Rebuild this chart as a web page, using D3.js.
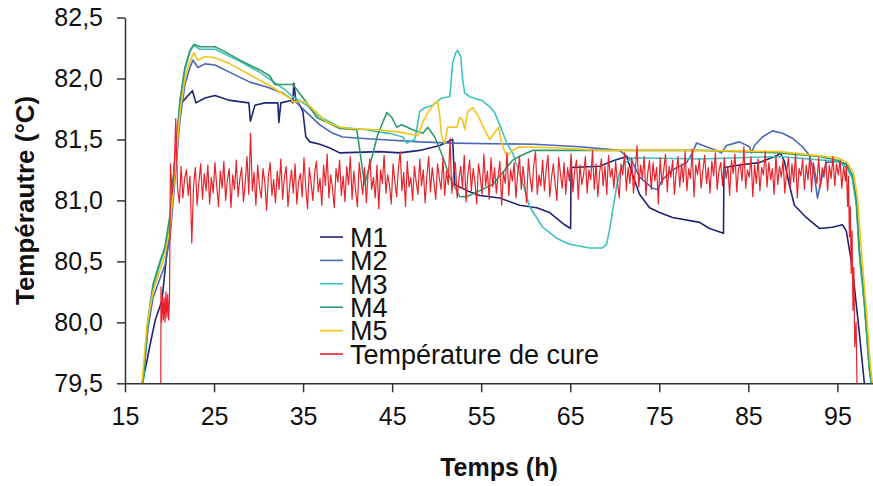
<!DOCTYPE html>
<html>
<head>
  <meta charset="utf-8">
  <script src="https://cdnjs.cloudflare.com/ajax/libs/d3/7.8.5/d3.min.js"></script>
  <title>Température de cure</title>
  <style>
    body { margin: 0; background: #fff; }
    text { font-family: Arial, "Liberation Sans", sans-serif; }
    .axis path, .axis line { stroke: #333; stroke-width: 1.5; }
    .axis text { font-size: 25px; fill: #111; }
    .curve { fill: none; stroke-linejoin: round; }
  </style>
</head>
<body>
<script>
// hours / °C
const m1 = [[16.9,79.5],[17.4,79.66],[17.8,79.81],[18.4,80.02],[19.15,80.18],[19.94,80.74],[20.6,81.33],[21.34,81.8],
  [22.57,81.9],[22.97,81.8],[23.98,81.84],[25.1,81.86],[26.78,81.82],[28.91,81.8],[29.08,81.65],[29.59,81.78],
  [30.71,81.8],[32.17,81.8],[32.28,81.64],[32.5,81.8],[33.63,81.82],[33.85,81.8],[33.96,81.96],[34.19,81.82],
  [34.64,81.78],[34.97,81.73],[35.31,81.52],[35.76,81.48],[36.88,81.46],[38.0,81.43],[39.12,81.39],[43.61,81.4],
  [45.86,81.39],[48.1,81.41],[50.34,81.45],[51.8,81.5],[52.03,81.13],[53.71,81.07],[54.83,81.04],[57.08,81.02],
  [59.32,80.96],[61.23,80.94],[62.69,80.9],[64.37,80.8],[65.04,80.77],[65.1,81.27],[68.3,81.28],[69.98,81.33],
  [71.33,81.36],[72.0,81.21],[72.78,81.05],[73.91,80.94],[75.03,80.9],[76.49,80.86],[79.52,80.82],[80.64,80.77],
  [82.21,80.73],[82.26,81.27],[84.0,81.29],[86.25,81.31],[88.27,81.37],[88.6,81.39],[89.05,81.32],[89.6,81.13],
  [90.17,80.96],[91.5,80.86],[92.98,80.77],[94.44,80.78],[95.56,80.8],[96.0,80.75],[96.68,80.45],[97.47,79.91],[98.03,79.5]];

const m2 = [[17.02,79.5],[17.58,79.95],[18.14,80.2],[18.93,80.36],[19.49,80.47],[20.05,80.69],[20.61,81.17],[21.17,81.66],
  [21.73,81.95],[22.29,82.09],[22.63,82.15],[23.19,82.09],[23.98,82.12],[25.1,82.11],[26.78,82.05],[29.03,81.97],
  [30.93,81.93],[32.73,81.88],[34.3,81.8],[35.42,81.72],[36.88,81.62],[38.34,81.55],[39.46,81.52],[41.37,81.51],
  [43.61,81.5],[48.1,81.48],[51.8,81.47],[61.0,81.46],[66.05,81.44],[70.54,81.41],[71.89,81.33],[72.78,81.19],
  [74.24,81.1],[74.8,81.09],[75.36,81.17],[76.49,81.25],[78.06,81.31],[78.73,81.39],[79.18,81.47],[80.3,81.44],
  [81.42,81.41],[81.98,81.39],[82.54,81.45],[84.0,81.48],[85.13,81.44],[85.35,81.39],[85.69,81.45],[86.58,81.52],
  [87.71,81.57],[88.83,81.55],[89.95,81.51],[91.07,81.44],[91.86,81.37],[92.42,81.21],[92.76,81.02],[93.2,81.17],
  [93.76,81.31],[95.0,81.32],[96.01,81.3],[96.68,81.2],[97.13,80.99],[97.47,80.58],[98.03,80.16],[98.59,79.62],[98.82,79.5]];

const m3 = [[17.02,79.5],[17.58,80.0],[18.14,80.28],[18.93,80.48],[19.49,80.6],[20.05,80.85],[20.61,81.31],[21.17,81.81],
  [21.73,82.07],[22.29,82.22],[22.74,82.27],[23.42,82.24],[25.1,82.24],[26.22,82.2],[27.9,82.14],[30.15,82.05],
  [32.73,81.92],[33.85,81.85],[35.42,81.78],[36.54,81.7],[39.12,81.6],[42.15,81.58],[43.61,81.56],[44.73,81.55],
  [46.19,81.52],[46.64,81.47],[47.54,81.5],[47.76,81.58],[48.1,81.73],[48.66,81.76],[49.56,81.78],[50.57,81.84],
  [51.47,81.85],[51.8,82.13],[52.14,82.21],[52.36,82.23],[52.7,82.18],[52.92,81.99],[53.15,81.88],[53.71,81.85],
  [55.06,81.82],[55.95,81.77],[56.51,81.72],[57.3,81.58],[57.86,81.47],[58.53,81.39],[59.54,81.17],[60.44,80.95],
  [61.9,80.78],[63.47,80.69],[64.93,80.64],[67.17,80.61],[68.63,80.61],[69.08,80.64],[69.42,80.76],[69.75,80.91],
  [70.2,81.11],[70.54,81.23],[71.1,81.31],[72.22,81.35],[79.52,81.34],[88.49,81.36],[95.0,81.32],[96.01,81.27],
  [96.68,81.18],[97.13,80.96],[97.47,80.55],[98.03,80.14],[98.59,79.61],[98.82,79.5]];

const m4 = [[17.02,79.5],[17.58,80.02],[18.14,80.31],[18.93,80.5],[19.49,80.62],[20.05,80.88],[20.61,81.33],[21.17,81.82],
  [21.73,82.09],[22.29,82.23],[22.74,82.28],[23.42,82.26],[25.1,82.26],[26.22,82.22],[27.9,82.15],[30.15,82.07],
  [31.27,82.02],[31.83,81.95],[33.85,81.95],[35.42,81.8],[36.54,81.68],[37.66,81.64],[39.12,81.59],[41.03,81.58],
  [41.37,81.41],[41.9,81.13],[42.71,81.35],[43.39,81.54],[44.4,81.72],[44.96,81.68],[45.52,81.6],[46.08,81.62],
  [47.31,81.58],[48.44,81.55],[49.0,81.6],[49.78,81.52],[50.68,81.36],[51.47,81.19],[52.59,81.03],[53.37,81.03],
  [54.83,81.08],[56.29,81.13],[57.64,81.25],[58.53,81.33],[59.54,81.37],[60.78,81.41],[68.3,81.41],[79.52,81.41],
  [88.49,81.39],[92.98,81.36],[95.0,81.33],[96.01,81.29],[96.68,81.21],[97.13,81.0],[97.47,80.59],[98.03,80.18],
  [98.59,79.63],[98.82,79.5]];

const m5 = [[16.91,79.5],[17.47,79.98],[18.14,80.25],[18.93,80.43],[19.49,80.55],[20.05,80.77],[20.61,81.23],[21.17,81.72],
  [21.73,82.0],[22.29,82.14],[22.74,82.21],[23.19,82.15],[23.98,82.18],[25.1,82.17],[26.78,82.12],[29.03,82.03],
  [31.27,81.94],[33.51,81.84],[33.85,81.81],[35.2,81.81],[36.54,81.72],[37.66,81.64],[39.12,81.6],[40.24,81.59],
  [43.27,81.58],[45.86,81.56],[47.88,81.53],[48.44,81.64],[49.0,81.72],[49.78,81.8],[50.12,81.81],[50.34,81.7],
  [50.57,81.52],[50.9,81.47],[51.24,81.6],[52.25,81.6],[52.59,81.68],[52.92,81.66],[53.15,81.58],[53.49,81.73],
  [54.05,81.76],[54.61,81.7],[55.39,81.58],[55.95,81.5],[56.74,81.58],[56.96,81.6],[57.3,81.47],[57.86,81.36],
  [58.53,81.41],[59.32,81.44],[63.81,81.43],[68.3,81.41],[79.52,81.41],[88.49,81.4],[95.0,81.35],[96.12,81.31],
  [96.8,81.23],[97.24,81.04],[97.69,80.59],[98.25,80.1],[98.7,79.65],[98.93,79.5]];

// cure temperature: start, logged samples every 0.2 h from 20.1 h, end
const cureHead = [[19.02,79.5],[19.04,80.29],[19.1,80.0],[19.2,80.22],[19.3,80.02],[19.4,80.2],[19.5,80.0],
  [19.6,80.25],[19.7,80.04],[19.8,80.23],[19.9,80.02],[20.0,80.2]];
const cureT0 = 20.1, cureStep = 0.2;
const cureVals = [
  81.30,81.05,81.22,81.67,81.10,80.98,81.28,81.02,81.18,81.25,
  81.04,81.20,80.65,81.12,81.27,80.96,81.15,81.30,81.01,81.22,
  81.08,81.29,80.97,81.19,81.06,81.31,81.12,80.95,81.24,81.10,
  81.32,81.00,81.17,81.26,80.94,81.21,81.09,81.33,81.03,81.18,
  81.27,80.99,81.14,81.36,81.05,81.55,81.08,81.23,80.96,81.29,
  81.11,81.02,81.26,81.15,80.92,81.20,81.31,81.04,81.17,80.98,
  81.24,81.09,81.34,81.01,81.19,81.28,80.95,81.13,81.25,81.06,
  81.30,80.97,81.16,81.22,81.03,81.35,81.10,80.93,81.27,81.14,
  81.00,81.23,81.32,81.07,81.18,80.96,81.29,81.12,81.38,81.02,
  81.21,81.10,80.94,81.26,81.15,81.33,81.04,81.20,80.99,81.28,
  81.13,81.36,81.01,81.24,81.08,80.95,81.31,81.17,81.05,81.27,
  80.98,81.22,81.34,81.09,81.19,81.02,81.29,80.93,81.25,81.14,
  81.37,81.06,81.21,81.12,80.97,81.30,81.16,81.03,81.26,81.40,
  81.08,81.23,80.95,81.32,81.11,81.19,81.00,81.28,81.15,81.05,
  81.34,81.12,81.25,80.98,81.20,81.36,81.07,81.27,81.14,81.01,
  81.30,81.18,81.09,81.35,81.04,81.24,81.13,81.51,81.06,81.22,
  81.31,81.02,81.17,81.28,81.10,81.37,80.99,81.21,81.33,81.08,
  81.26,81.15,80.97,81.30,81.19,81.05,81.38,81.12,81.24,81.01,
  81.35,81.11,81.27,81.06,81.20,81.32,80.96,81.23,81.14,81.39,
  81.04,81.25,81.16,81.31,81.02,81.22,81.36,81.09,81.28,81.13,
  80.98,81.34,81.18,81.07,81.29,81.40,81.05,81.21,81.12,81.33,
  81.08,81.26,81.37,81.03,81.19,81.30,81.14,81.00,81.35,81.22,
  81.10,81.31,81.05,81.27,81.16,81.38,81.07,81.24,81.33,81.01,
  81.29,81.13,81.21,81.36,81.06,81.25,81.17,81.41,81.09,81.30,
  81.03,81.23,81.34,81.12,81.28,81.05,81.37,81.19,81.26,81.10,
  81.32,81.15,81.02,81.30,81.21,81.39,81.08,81.27,81.14,81.35,
  81.06,81.24,81.45,81.11,81.29,81.18,81.36,81.04,81.22,81.33,
  81.09,81.31,81.16,81.27,80.97,81.35,81.13,81.25,81.38,81.07,
  81.28,81.19,81.33,81.05,81.23,81.36,81.11,81.30,81.15,81.40,
  81.08,81.26,81.18,81.42,81.03,81.29,81.21,81.34,81.10,81.25,
  81.37,81.14,81.27,81.06,81.32,81.20,81.39,81.09,81.24,81.31,
  81.12,81.35,81.18,81.28,81.04,81.33,81.22,81.38,81.07,81.26,
  81.30,81.16,81.44,81.10,81.25,81.19,81.36,81.03,81.29,81.14,
  81.34,81.08,81.27,81.21,81.40,81.11,81.31,81.17,81.26,81.05,
  81.37,81.13,81.28,81.19,81.33,81.06,81.24,81.35,81.10,81.30,
  81.15,81.38,81.02,81.26,81.20,81.34,81.09,81.29,81.17,81.36,
  81.07,81.31,81.23,81.14,81.35,81.11,81.27,81.19,81.33,81.08,
  81.29,81.18,81.36,81.12,81.30,81.21,81.33,81.10,81.28,81.16];
const cureTail = [[96.0,81.28],[96.15,80.95],[96.25,81.2],[96.35,80.7],[96.45,80.95],[96.55,80.4],[96.65,80.75],
  [96.75,80.1],[96.85,80.45],[96.95,79.8],[97.1,80.0],[97.2,79.5]];

const seriesNames = ["M1", "M2", "M3", "M4", "M5", "Température de cure"];
const seriesColors = ["#1f2474", "#4a68b6", "#3ec3bf", "#2f9a6a", "#f3c419", "#e8232b"];
const xTicks = [15, 25, 35, 45, 55, 65, 75, 85, 95];
const yTicks = [79.5, 80.0, 80.5, 81.0, 81.5, 82.0, 82.5];

const cure = cureHead
  .concat(cureVals.map((v, i) => [cureT0 + i * cureStep, v]))
  .concat(cureTail);
const allSeries = [m1, m2, m3, m4, m5, cure];

const W = 873, H = 486;
const margin = {top: 17.5, right: 0, bottom: 102.7, left: 125};

const svg = d3.select("body").append("svg")
    .attr("width", W)
    .attr("height", H);

const x = d3.scaleLinear().domain([15, 99]).range([margin.left, W - margin.right]);
const y = d3.scaleLinear().domain([79.5, 82.5]).range([H - margin.bottom, margin.top]);

const comma = d => d3.format(".1f")(d).replace(".", ",");

svg.append("defs").append("clipPath").attr("id", "plot")
  .append("rect")
    .attr("x", margin.left).attr("y", margin.top - 2)
    .attr("width", W - margin.left).attr("height", H - margin.bottom - margin.top + 2);

// axes
svg.append("g")
    .attr("class", "axis")
    .attr("transform", "translate(0," + (H - margin.bottom) + ")")
    .call(d3.axisBottom(x).tickValues(xTicks).tickSize(9).tickSizeOuter(0).tickPadding(10))
    .call(g => g.selectAll("text").attr("dy", "0.9em"));

svg.append("g")
    .attr("class", "axis")
    .attr("transform", "translate(" + margin.left + ",0)")
    .call(d3.axisLeft(y).tickValues(yTicks).tickFormat(comma).tickSize(8).tickSizeOuter(0).tickPadding(14));

// curves
const line = d3.line().x(d => x(d[0])).y(d => y(d[1]));

svg.append("g")
    .attr("clip-path", "url(#plot)")
  .selectAll("path")
  .data(allSeries)
  .enter().append("path")
    .attr("class", "curve")
    .attr("d", line)
    .attr("stroke", (d, i) => seriesColors[i])
    .attr("stroke-width", (d, i) => i === 5 ? 1.2 : 1.6);

// legend
const legend = svg.append("g")
    .attr("transform", "translate(320,237)");

const item = legend.selectAll("g")
  .data(seriesNames)
  .enter().append("g")
    .attr("transform", (d, i) => "translate(0," + (i * 23.4) + ")");

item.append("line")
    .attr("x1", 0).attr("x2", 23)
    .attr("stroke", (d, i) => seriesColors[i])
    .attr("stroke-width", 1.6);

item.append("text")
    .attr("x", 30)
    .attr("dy", "0.36em")
    .style("font-size", "27px")
    .style("fill", "#111")
    .text(d => d);

// axis titles
svg.append("text")
    .attr("x", (margin.left + W) / 2)
    .attr("y", 476)
    .attr("text-anchor", "middle")
    .style("font-size", "25px")
    .style("font-weight", "bold")
    .style("fill", "#111")
    .text("Temps (h)");

svg.append("text")
    .attr("transform", "translate(34," + ((margin.top + H - margin.bottom) / 2) + ") rotate(-90)")
    .attr("text-anchor", "middle")
    .style("font-size", "26px")
    .style("font-weight", "bold")
    .style("fill", "#111")
    .text("Tempérautre (°C)");
</script>
</body>
</html>
